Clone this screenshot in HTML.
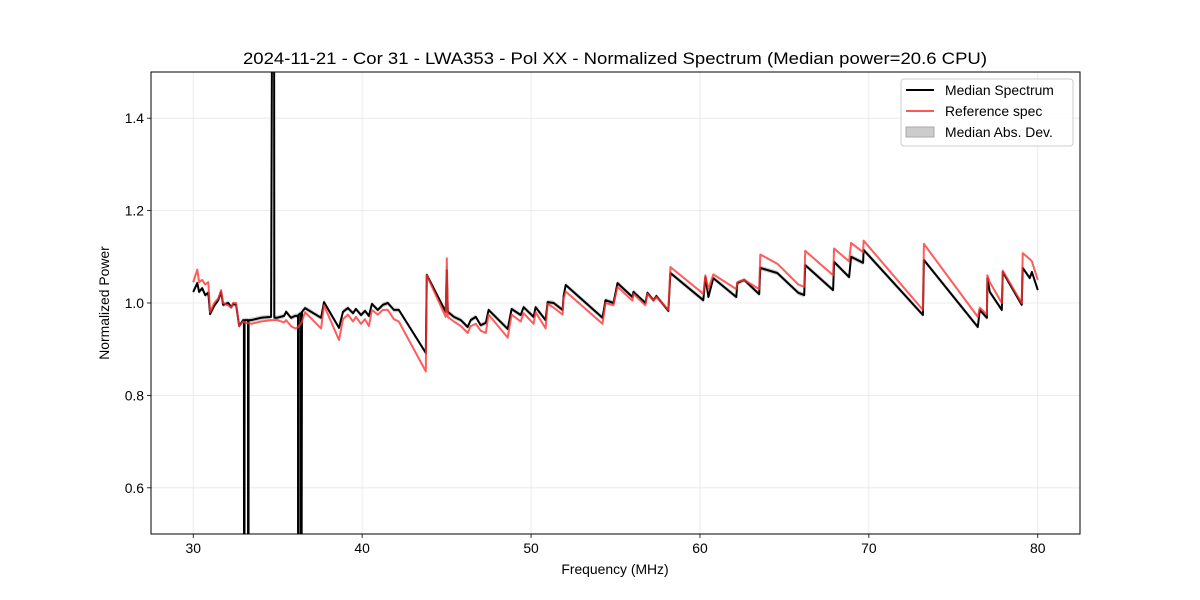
<!DOCTYPE html>
<html><head><meta charset="utf-8"><style>
html,body{margin:0;padding:0;background:#fff;overflow:hidden;width:1200px;height:600px;}
svg{display:block;}
svg text{font-family:"Liberation Sans","DejaVu Sans",sans-serif;}
</style></head><body>
<svg id="chart" width="1200" height="600" xmlns="http://www.w3.org/2000/svg">
<defs><clipPath id="clip"><rect x="151" y="72" width="929" height="462"/></clipPath></defs>
<text x="615" y="64" font-size="17" text-anchor="middle" textLength="744" lengthAdjust="spacingAndGlyphs">2024-11-21 - Cor 31 - LWA353 - Pol XX - Normalized Spectrum (Median power=20.6 CPU)</text>
<g id="grid"></g>
<g id="plot" clip-path="url(#clip)"></g>
<rect x="151" y="72" width="929" height="462" fill="none" stroke="#000" stroke-width="1"/>
<g id="axes"></g>
<text x="615" y="574" font-size="13.9" text-anchor="middle">Frequency (MHz)</text>
<text x="0" y="0" font-size="13.9" text-anchor="middle" transform="translate(109,303) rotate(-90)">Normalized Power</text>
<g>
<rect x="901" y="79" width="172" height="67" rx="3" fill="#fff" fill-opacity="0.8" stroke="#ccc"/>
<line x1="906" y1="90" x2="934" y2="90" stroke="#000" stroke-width="2"/>
<text x="945" y="95" font-size="13.9">Median Spectrum</text>
<line x1="906" y1="111" x2="934" y2="111" stroke="#ff5555" stroke-width="2"/>
<text x="945" y="116" font-size="13.9">Reference spec</text>
<rect x="906" y="127" width="28" height="10" fill="#cccccc" stroke="#aaa"/>
<text x="945" y="137" font-size="13.9">Median Abs. Dev.</text>
</g>
</svg>
<script>
const freqs=[30.00,30.24,30.35,30.53,30.71,30.89,31.00,31.24,31.48,31.65,31.77,32.07,32.25,32.36,32.54,32.72,32.96,33.00,33.01,33.03,33.04,33.24,33.25,33.27,33.28,33.43,34.02,34.61,34.70,34.72,34.74,34.76,34.78,34.80,34.96,35.38,35.50,35.79,36.03,36.20,36.21,36.23,36.24,36.37,36.38,36.40,36.44,36.62,37.57,37.74,38.63,38.87,39.16,39.46,39.63,39.93,40.17,40.40,40.58,40.93,41.23,41.52,41.88,42.17,43.77,43.83,44.95,45.01,45.07,45.43,45.84,46.25,46.43,46.73,47.02,47.32,47.49,48.62,48.85,49.39,49.56,50.15,50.27,50.86,50.98,51.34,51.87,51.93,52.05,54.23,54.41,54.88,55.12,56.00,56.06,56.77,56.89,57.25,57.42,58.13,58.25,60.20,60.32,60.50,60.79,62.15,62.21,62.62,63.51,63.57,64.58,65.82,66.17,66.23,67.88,67.94,68.83,68.95,69.66,69.69,73.20,73.26,76.45,76.57,76.99,77.02,77.16,77.87,77.93,79.05,79.11,79.53,79.65,80.00];
const median=[1.024,1.043,1.024,1.032,1.017,1.022,0.976,0.994,1.006,1.024,0.996,1.000,0.991,0.998,0.996,0.950,0.963,0.963,0.0,0.0,0.963,0.963,0.0,0.0,0.963,0.963,0.968,0.970,2.0,2.0,2.0,2.0,2.0,0.968,0.968,0.972,0.981,0.968,0.972,0.972,0.0,0.0,0.975,0.978,0.0,0.0,0.981,0.989,0.968,1.002,0.946,0.981,0.989,0.978,0.987,0.974,0.983,0.972,0.998,0.985,0.996,1.000,0.985,0.985,0.892,1.061,0.981,1.071,0.981,0.970,0.963,0.948,0.963,0.970,0.952,0.957,0.985,0.944,0.987,0.974,0.991,0.970,0.991,0.963,1.002,1.000,0.985,1.015,1.039,0.968,1.006,1.000,1.043,1.013,1.024,1.000,1.022,1.006,1.015,0.983,1.065,1.006,1.056,1.013,1.054,1.013,1.043,1.050,1.019,1.076,1.065,1.022,1.017,1.082,1.028,1.089,1.056,1.100,1.087,1.115,0.974,1.093,0.948,0.985,0.968,1.054,1.024,0.985,1.067,0.996,1.076,1.054,1.067,1.028];
const reference=[1.045,1.072,1.045,1.050,1.040,1.045,0.980,1.000,1.010,1.028,1.000,0.995,0.990,1.000,1.000,0.950,0.960,0.958,0.958,0.958,0.958,0.956,0.956,0.956,0.956,0.955,0.960,0.963,0.963,0.963,0.963,0.963,0.963,0.963,0.963,0.958,0.963,0.950,0.945,0.947,0.948,0.949,0.950,0.955,0.956,0.957,0.960,0.980,0.945,0.995,0.920,0.965,0.975,0.960,0.970,0.955,0.965,0.950,0.985,0.975,0.985,0.985,0.965,0.960,0.852,1.060,0.970,1.097,0.970,0.960,0.950,0.935,0.950,0.955,0.940,0.935,0.975,0.925,0.975,0.960,0.978,0.955,0.980,0.945,0.998,0.990,0.975,1.010,1.025,0.955,1.000,0.995,1.035,1.005,1.020,0.995,1.020,1.005,1.013,0.985,1.078,1.020,1.060,1.030,1.062,1.030,1.045,1.050,1.030,1.105,1.085,1.040,1.035,1.113,1.060,1.118,1.090,1.130,1.110,1.135,0.985,1.128,0.970,0.990,0.975,1.060,1.045,1.000,1.070,1.000,1.108,1.095,1.090,1.050];
const xTicks=[30,40,50,60,70,80];
const yTicks=[0.6,0.8,1.0,1.2,1.4];
const yTickLabels=["0.6","0.8","1.0","1.2","1.4"];
const madWidth=0.005;

const NS="http://www.w3.org/2000/svg";
const X0=151,X1=1080,Y0=72,Y1=534,XMIN=27.5,XMAX=82.5,YMIN=0.5,YMAX=1.5;
function sx(f){return X0+(f-XMIN)/(XMAX-XMIN)*(X1-X0);}
function sy(v){return Y1-(v-YMIN)/(YMAX-YMIN)*(Y1-Y0);}
function mk(tag,attrs,parent){const e=document.createElementNS(NS,tag);for(const k in attrs)e.setAttribute(k,attrs[k]);parent.appendChild(e);return e;}
const grid=document.getElementById('grid'),plot=document.getElementById('plot'),axes=document.getElementById('axes');
xTicks.forEach(t=>{
  const g=mk('line',{x1:sx(t),x2:sx(t),y1:Y0,y2:Y1,stroke:'#e6e6e6','stroke-width':0.8},grid);
  
  
  const tk=mk('line',{x1:sx(t),x2:sx(t),y1:Y1,y2:Y1+4,stroke:'#000','stroke-width':0.8},axes);
  
  
  const tx=mk('text',{x:sx(t),y:Y1+19,'font-size':13.9,'text-anchor':'middle'},axes);
  tx.textContent=String(t);
  
  
});
yTicks.forEach((t,i)=>{
  const g=mk('line',{x1:X0,x2:X1,y1:sy(t),y2:sy(t),stroke:'#e6e6e6','stroke-width':0.8},grid);
  
  
  const tk=mk('line',{x1:X0-4,x2:X0,y1:sy(t),y2:sy(t),stroke:'#000','stroke-width':0.8},axes);
  
  
  const tx=mk('text',{x:X0-7,y:sy(t)+5,'font-size':13.9,'text-anchor':'end'},axes);
  tx.textContent=yTickLabels[i];
  
  
});
let up=freqs.map((f,i)=>sx(f).toFixed(1)+','+sy(median[i]+madWidth).toFixed(1));
let dn=freqs.map((f,i)=>sx(f).toFixed(1)+','+sy(median[i]-madWidth).toFixed(1)).reverse();
const band=mk('polygon',{points:up.concat(dn).join(' '),fill:'#999','fill-opacity':0.5,stroke:'none'},plot);


const med=mk('polyline',{points:freqs.map((f,i)=>sx(f).toFixed(1)+','+sy(median[i]).toFixed(1)).join(' '),fill:'none',stroke:'#000','stroke-width':2,'stroke-linejoin':'round'},plot);


const ref=mk('polyline',{points:freqs.map((f,i)=>sx(f).toFixed(1)+','+sy(reference[i]).toFixed(1)).join(' '),fill:'none',stroke:'#ff3333','stroke-opacity':0.8,'stroke-width':2,'stroke-linejoin':'round'},plot);


</script>
</body></html>
